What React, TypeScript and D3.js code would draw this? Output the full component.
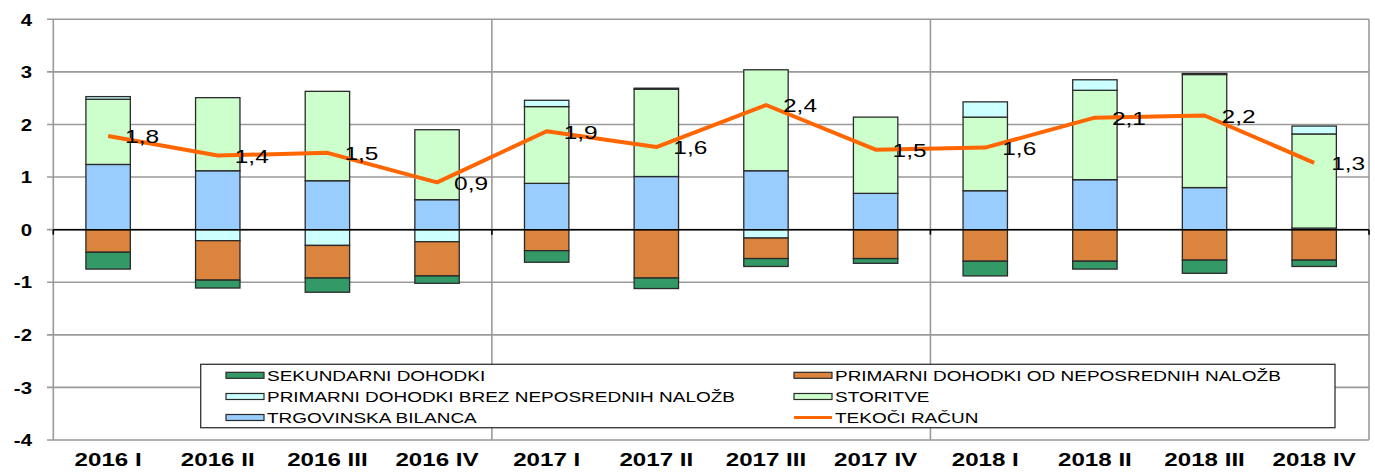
import React from "react";
import * as d3 from "d3";

const categories = ["2016 I", "2016 II", "2016 III", "2016 IV", "2017 I", "2017 II", "2017 III", "2017 IV", "2018 I", "2018 II", "2018 III", "2018 IV"];
const trgovinska = [1.24, 1.12, 0.93, 0.57, 0.88, 1.01, 1.12, 0.69, 0.74, 0.95, 0.8, 0.03];
const storitve = [1.24, 1.39, 1.7, 1.33, 1.46, 1.66, 1.92, 1.45, 1.4, 1.7, 2.15, 1.79];
const primarniBrez = [0.05, -0.21, -0.3, -0.23, 0.12, 0.02, -0.16, 0.0, 0.29, 0.2, 0.02, 0.15];
const primarniOd = [-0.43, -0.75, -0.62, -0.65, -0.4, -0.92, -0.39, -0.55, -0.6, -0.6, -0.58, -0.58];
const sekundarni = [-0.32, -0.15, -0.27, -0.14, -0.22, -0.2, -0.15, -0.09, -0.28, -0.15, -0.25, -0.12];
const tekoci = [1.78, 1.41, 1.46, 0.9, 1.87, 1.57, 2.37, 1.52, 1.56, 2.13, 2.17, 1.27];
const yTicks = [4, 3, 2, 1, 0, -1, -2, -3, -4];

const seriesKeys = ["trgovinska", "storitve", "primarniBrez", "primarniOd", "sekundarni"];
const seriesData: Record<string, number[]> = { trgovinska, storitve, primarniBrez, primarniOd, sekundarni };
const colors: Record<string, string> = {
  trgovinska: "#99CCFF",
  storitve: "#CCFFCC",
  primarniBrez: "#CCFFFF",
  primarniOd: "#DB843D",
  sekundarni: "#339966",
  tekoci: "#FF6600",
};
const legendItems = [
  { key: "sekundarni", label: "SEKUNDARNI DOHODKI", col: 0, row: 0 },
  { key: "primarniOd", label: "PRIMARNI DOHODKI OD NEPOSREDNIH NALOŽB", col: 1, row: 0 },
  { key: "primarniBrez", label: "PRIMARNI DOHODKI BREZ NEPOSREDNIH NALOŽB", col: 0, row: 1 },
  { key: "storitve", label: "STORITVE", col: 1, row: 1 },
  { key: "trgovinska", label: "TRGOVINSKA BILANCA", col: 0, row: 2 },
  { key: "tekoci", label: "TEKOČI RAČUN", col: 1, row: 2 },
];

const W = 1375;
const H = 473;
const left = 53.3;
const right = 1369;
const top = 19.3;
const bottom = 440;
const SX = 1.33;
const FONT = "'Liberation Sans', Arial, sans-serif";

function SText({ x, y, sx = SX, anchor = "start", size, weight = "normal", children }: any) {
  return (
    <text
      transform={`translate(${x},${y}) scale(${sx},1)`}
      textAnchor={anchor}
      fontSize={size}
      fontWeight={weight}
      fontFamily={FONT}
      fill="#000"
    >
      {children}
    </text>
  );
}

export default function App() {
  const x = d3.scaleBand<string>().domain(categories).range([left, right]).padding(0);
  const y = d3.scaleLinear().domain([-4, 4]).range([bottom, top]);
  const bw = x.bandwidth() * 0.405;

  const table = categories.map((c, i) => {
    const row: any = { cat: c };
    seriesKeys.forEach((k) => (row[k] = seriesData[k][i]));
    return row;
  });
  const stacked = d3.stack<any>().keys(seriesKeys).offset(d3.stackOffsetDiverging)(table);

  const cx = (c: string) => (x(c) as number) + x.bandwidth() / 2;
  const line = d3
    .line<number>()
    .x((_, i) => cx(categories[i]))
    .y((d) => y(d));

  const groupLines = [0, 4, 8, 12].map((i) => left + i * x.bandwidth());
  const fmt = (v: number) => v.toFixed(1).replace(".", ",");

  const legX0 = 200.7;
  const legY0 = 364.3;
  const legX1 = 1335;
  const legY1 = 427.7;
  const colX = [226, 794];
  const rowY = [375.3, 396.5, 417.5];

  return (
    <svg width={W} height={H} style={{ position: "absolute", left: 0, top: 0, background: "#fff" }}>
      <rect x={0} y={0} width={W} height={H} fill="#fff" />
      {/* horizontal gridlines */}
      {yTicks.map((t) => (
        <line key={"g" + t} x1={47} x2={right} y1={y(t)} y2={y(t)} stroke="#9a9a9a" strokeWidth={1.6} />
      ))}
      {/* vertical group lines */}
      {groupLines.map((gx, i) => (
        <line key={"v" + i} x1={gx} x2={gx} y1={top} y2={bottom} stroke="#9a9a9a" strokeWidth={1.6} />
      ))}
      {/* bars */}
      {stacked.map((s) => (
        <g key={s.key}>
          {s.map((d, i) => {
            const y0 = y(d[0]);
            const y1 = y(d[1]);
            const h = Math.abs(y0 - y1);
            if (h < 0.01) return null;
            return (
              <rect
                key={i}
                x={cx(categories[i]) - bw / 2}
                y={Math.min(y0, y1)}
                width={bw}
                height={h}
                fill={colors[s.key]}
                stroke="#2a2a2a"
                strokeWidth={1.3}
              />
            );
          })}
        </g>
      ))}
      {/* zero line */}
      <line x1={left} x2={right} y1={y(0)} y2={y(0)} stroke="#000" strokeWidth={1.5} />
      {groupLines.map((gx, i) => (
        <line key={"zt" + i} x1={gx} x2={gx} y1={y(0)} y2={y(0) + 5} stroke="#000" strokeWidth={1.6} />
      ))}
      {/* current account line */}
      <path d={line(tekoci) || ""} fill="none" stroke={colors.tekoci} strokeWidth={4} strokeLinejoin="round" />
      {tekoci.map((v, i) => (
        <SText key={"l" + i} x={cx(categories[i]) + 17} y={y(v) + 1 + 6.3} size={17.5} sx={1.4}>
          {fmt(v)}
        </SText>
      ))}
      {/* y axis labels */}
      {yTicks.map((t) => (
        <SText key={"yl" + t} x={32} y={y(t) + 6.2} size={17} anchor="end" weight="bold" sx={1.2}>
          {String(t)}
        </SText>
      ))}
      {/* x axis labels */}
      {categories.map((c) => (
        <SText key={"xl" + c} x={cx(c)} y={466} size={17.5} anchor="middle" weight="bold" sx={1.38}>
          {c}
        </SText>
      ))}
      {/* legend */}
      <rect x={legX0} y={legY0} width={legX1 - legX0} height={legY1 - legY0} fill="#fff" stroke="#333" strokeWidth={1.3} />
      {legendItems.map((it) => {
        const lx = colX[it.col];
        const ly = rowY[it.row];
        return (
          <g key={it.key}>
            {it.key === "tekoci" ? (
              <line x1={lx} x2={lx + 38} y1={ly} y2={ly} stroke={colors.tekoci} strokeWidth={3} />
            ) : (
              <rect x={lx} y={ly - 3} width={38} height={6} fill={colors[it.key]} stroke="#2a2a2a" strokeWidth={1.2} />
            )}
            <SText x={lx + 41} y={ly + 5.2} size={14.5} sx={1.31}>
              {it.label}
            </SText>
          </g>
        );
      })}
    </svg>
  );
}
